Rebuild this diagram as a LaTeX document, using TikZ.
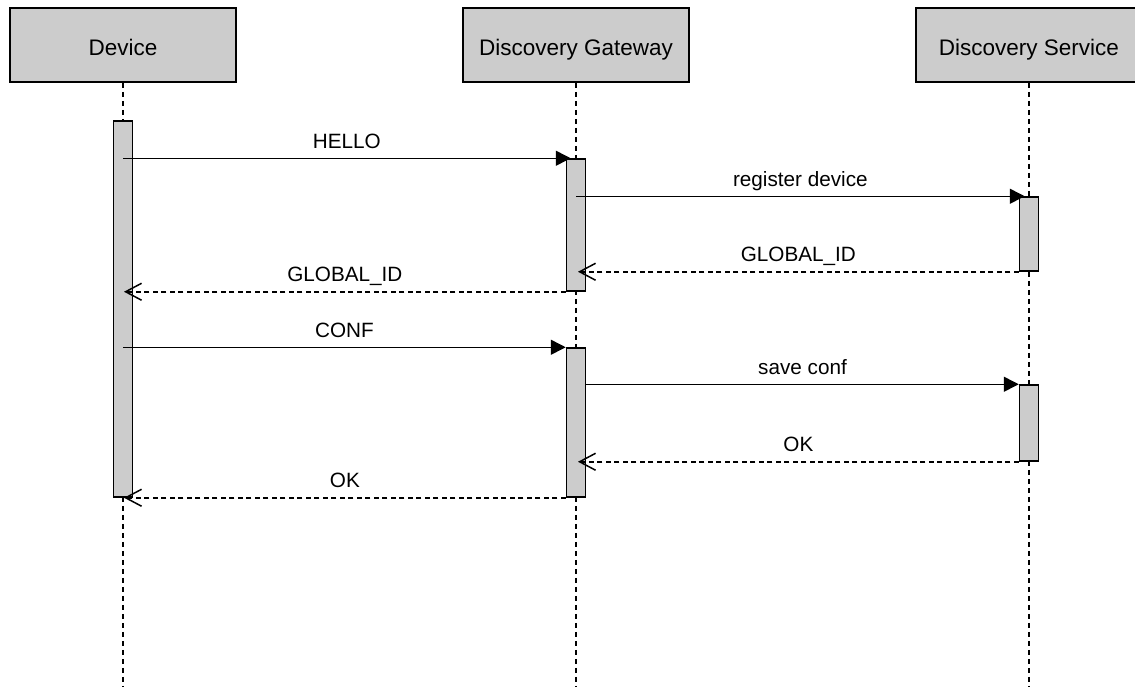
\documentclass[tikz,border=0pt]{standalone}
\usepackage{fontspec}
\setmainfont{Liberation Sans}
\usetikzlibrary{arrows.meta}
\definecolor{boxgray}{RGB}{204,204,204}
\begin{document}
\begin{tikzpicture}[x=1pt,y=-1pt,
  actor/.style={draw,line width=1.6pt,fill=boxgray,minimum width=226pt,
    minimum height=74pt,inner sep=0pt,text height=21pt,text depth=0pt,
    font=\fontsize{22.5}{26}\selectfont},
  lifeline/.style={line width=1.5pt,dash pattern=on 5pt off 4pt},
  bar/.style={draw,line width=1.5pt,fill=boxgray,minimum width=19pt,inner sep=0pt},
  call/.style={line width=1.5pt,-{Triangle[length=15pt,width=15pt]}},
  reply/.style={line width=1.5pt,dash pattern=on 5pt off 3.5pt,
    -{Straight Barb[length=16pt,width=17pt,line width=1.5pt]}},
  lbl/.style={midway,anchor=base,yshift=10pt,inner sep=0pt,
    font=\fontsize{20.7}{24}\selectfont}]
\useasboundingbox (0,0) rectangle (1135,686);
\clip (0,0) rectangle (1135,686);

% participants
\node[actor] (dev) at (123,45) {Device};
\node[actor] (gw)  at (576,45) {Discovery Gateway};
\node[actor] (svc) at (1029,45) {Discovery Service};

% lifelines
\coordinate (devEnd) at (123,686);
\coordinate (gwEnd)  at (576,686);
\coordinate (svcEnd) at (1029,686);
\draw[lifeline] (dev.south) -- (devEnd);
\draw[lifeline] (gw.south) -- (gwEnd);
\draw[lifeline] (svc.south) -- (svcEnd);

% activation bars
\node[bar,minimum height=376pt] (d)  at (123,309)   {};
\node[bar,minimum height=132pt] (g1) at (576,225)   {};
\node[bar,minimum height=149pt] (g2) at (576,422.5) {};
\node[bar,minimum height=74pt]  (s1) at (1029,234)  {};
\node[bar,minimum height=76pt]  (s2) at (1029,423)  {};

% registration
\draw[call] (d.center |- g1.north) -- ([xshift=5pt]g1.north west)
  node[lbl] {HELLO};
\draw[call] (g1.center |- s1.north) -- ([xshift=6pt]s1.north west)
  node[lbl] {register device};
\draw[reply] (s1.south west) -- ([xshift=2pt]g1.center |- s1.south)
  node[lbl] {GLOBAL\_ID};
\draw[reply] (g1.south west) -- ([xshift=1pt]d.center |- g1.south)
  node[lbl] {GLOBAL\_ID};

% configuration
\draw[call] (d.center |- g2.north) -- (g2.north west)
  node[lbl] {CONF};
\draw[call] (g2.east |- s2.north) -- (s2.north west)
  node[lbl] {save conf};
\draw[reply] (s2.south west) -- ([xshift=2pt]g2.center |- s2.south)
  node[lbl] {OK};
\draw[reply] (g2.south west) -- ([xshift=1pt]d.center |- g2.south)
  node[lbl] {OK};
\end{tikzpicture}
\end{document}
